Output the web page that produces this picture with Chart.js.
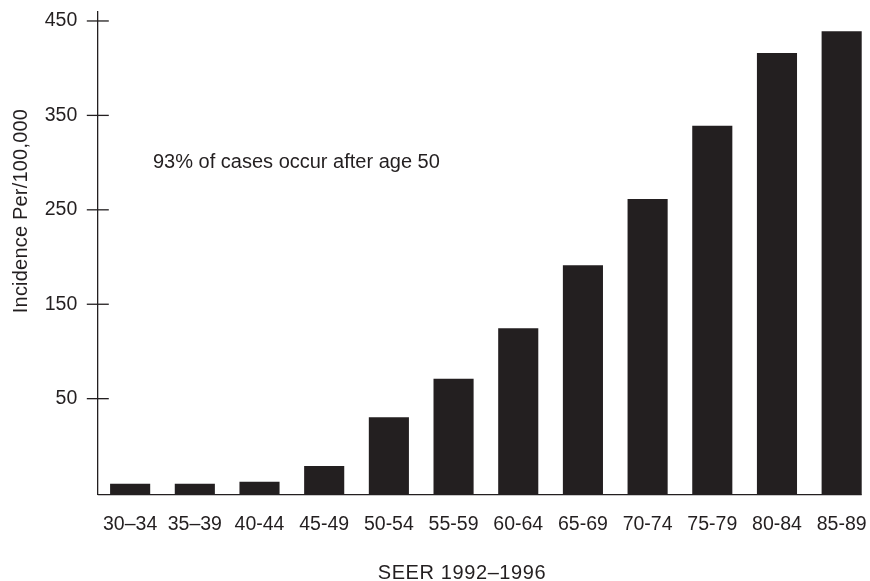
<!DOCTYPE html>
<html>
<head>
<meta charset="utf-8">
<title>Incidence by age</title>
<script src="https://cdn.jsdelivr.net/npm/chart.js@4.4.0/dist/chart.umd.min.js"></script>
<style>
  html, body { margin: 0; padding: 0; background: #fff; overflow: hidden; }
  #wrap { width: 874px; height: 581px; }
</style>
</head>
<body>
<div id="wrap"><canvas id="incidenceChart" width="874" height="581"></canvas></div>
<script>
// Data (values follow the printed axis labels)
const ageGroups = ['30–34', '35–39', '40-44', '45-49', '50-54', '55-59', '60-64', '65-69', '70-74', '75-79', '80-84', '85-89'];
const incidence = [-40, -40, -37.9, -21.3, 30.3, 71.2, 124.6, 191.3, 261.5, 339.1, 416.1, 439.1];
const yTickValues = [50, 150, 250, 350, 450];
const yMin = -51.7;
const yMax = 459.5;

const yTitle = 'Incidence Per/100,000';
const xTitle = 'SEER 1992–1996';
const note = '93% of cases occur after age 50';

const ink = '#231f20';
const fontFamily = '"Liberation Sans", Arial, Helvetica, sans-serif';

// Tick marks crossing the axis, baseline, axis titles and note
const axisExtras = {
    id: 'axisExtras',
    afterDraw(chart) {
        const { ctx, chartArea, scales: { y } } = chart;
        ctx.save();
        ctx.strokeStyle = ink;
        ctx.lineWidth = 1.3;

        yTickValues.forEach(v => {
            const py = y.getPixelForValue(v);
            ctx.beginPath();
            ctx.moveTo(chartArea.left - 11, py);
            ctx.lineTo(chartArea.left + 11, py);
            ctx.stroke();
        });

        // baseline stops at the edge of the last bar
        const bars = chart.getDatasetMeta(0).data;
        const last = bars[bars.length - 1];
        ctx.beginPath();
        ctx.moveTo(chartArea.left, chartArea.bottom);
        ctx.lineTo(last.x + last.width / 2, chartArea.bottom);
        ctx.stroke();

        ctx.fillStyle = ink;
        ctx.font = '20px ' + fontFamily;
        ctx.textBaseline = 'alphabetic';

        ctx.textAlign = 'left';
        ctx.fillText(note, 153, 168);

        ctx.textAlign = 'center';
        ctx.letterSpacing = '0.6px';
        ctx.fillText(xTitle, 462, 579);

        ctx.translate(27, 211);
        ctx.rotate(-Math.PI / 2);
        ctx.letterSpacing = '0.2px';
        ctx.fillText(yTitle, 0, 0);
        ctx.restore();
    }
};

const ctx = document.getElementById('incidenceChart').getContext('2d');
const incidenceChart = new Chart(ctx, {
    type: 'bar',
    data: {
        labels: ageGroups,
        datasets: [{
            data: incidence,
            base: yMin,
            backgroundColor: ink,
            borderWidth: 0,
            barPercentage: 0.62,
            categoryPercentage: 1
        }]
    },
    options: {
        responsive: false,
        animation: false,
        layout: { padding: { top: 12, left: 0, right: 0, bottom: 0 } },
        plugins: {
            legend: { display: false },
            tooltip: { enabled: false }
        },
        scales: {
            x: {
                grid: { display: false, drawTicks: false },
                border: { display: false },
                ticks: {
                    color: ink,
                    padding: 18,
                    maxRotation: 0,
                    autoSkip: false,
                    font: { family: fontFamily, size: 19.5 }
                },
                afterFit(scale) {
                    scale.height = 86.3;
                    scale.paddingLeft = 0;
                    scale.paddingRight = 0;
                }
            },
            y: {
                min: yMin,
                max: yMax,
                grid: { display: false, drawTicks: false },
                border: { display: true, color: ink, width: 1.3 },
                ticks: {
                    color: ink,
                    padding: 20.5,
                    font: { family: fontFamily, size: 19.5 }
                },
                afterBuildTicks(scale) {
                    scale.ticks = yTickValues.map(v => ({ value: v }));
                },
                afterFit(scale) {
                    scale.width = 97.8;
                    scale.paddingTop = 0;
                    scale.paddingBottom = 0;
                }
            }
        }
    },
    plugins: [axisExtras]
});
</script>
</body>
</html>
